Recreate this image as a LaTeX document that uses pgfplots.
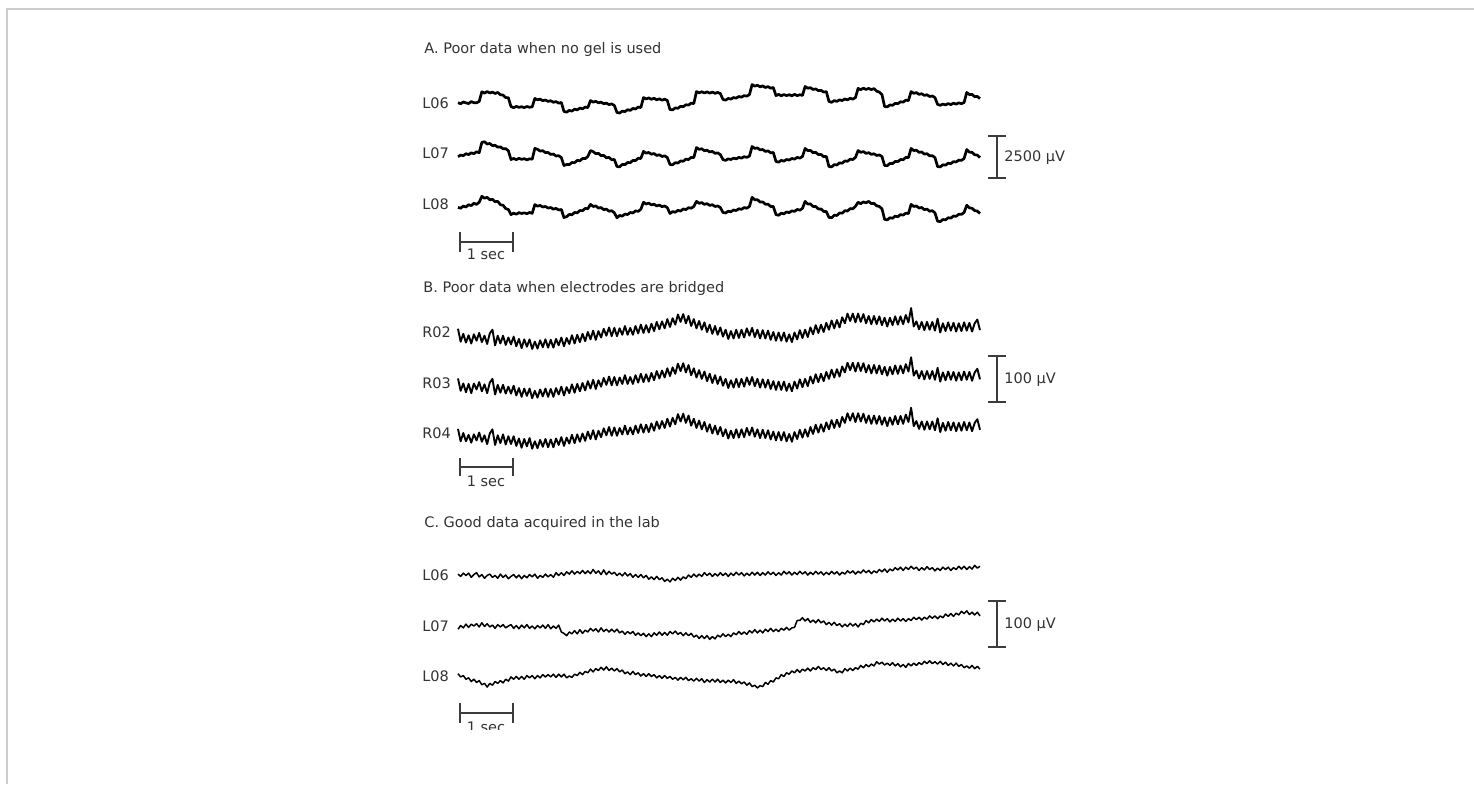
\documentclass[border=0pt]{standalone}
\usepackage{pgfplots}
\pgfplotsset{compat=1.18}
\usepackage{pgfplotstable}
\usepackage{fontspec}
\setmainfont{DejaVu Sans}
\definecolor{txt}{RGB}{51,51,51}
\definecolor{sbar}{RGB}{60,60,60}
\definecolor{frame}{RGB}{204,204,204}

% Panel A: no gel (uV), channels L06 L07 L08
\pgfplotstableread{
t a b c
0 20 -210 -190
0.05 -40 -120 -240
0.1 60 -150 -120
0.15 10 -40 -170
0.2 -30 -90 -40
0.25 80 10 -90
0.3 20 -40 40
0.35 10 70 -20
0.4 90 20 100
0.45 640 600 440
0.5 560 640 330
0.55 650 510 380
0.6 570 540 240
0.65 620 420 270
0.7 540 440 130
0.75 600 330 150
0.8 470 350 -40
0.85 450 240 -70
0.9 310 250 -260
0.95 300 130 -310
1 -200 -370 -600
1.05 -270 -310 -520
1.1 -190 -380 -580
1.15 -250 -300 -490
1.2 -210 -360 -540
1.25 -260 -320 -500
1.3 -200 -390 -550
1.35 -240 -330 -480
1.4 -220 -350 -530
1.45 260 260 -30
1.5 180 210 -120
1.55 220 110 -80
1.6 130 130 -170
1.65 170 20 -140
1.7 90 30 -230
1.75 130 -80 -200
1.8 40 -60 -290
1.85 80 -170 -250
1.9 -10 -150 -340
1.95 30 -260 -310
2 -480 -710 -770
2.05 -520 -650 -720
2.1 -420 -660 -590
2.15 -460 -540 -610
2.2 -350 -550 -480
2.25 -390 -420 -500
2.3 -290 -440 -370
2.35 -330 -310 -380
2.4 -230 -320 -250
2.45 -260 -200 -270
2.5 140 140 -20
2.55 50 80 -140
2.6 100 -40 -110
2.65 10 -20 -230
2.7 50 -150 -200
2.75 -40 -140 -320
2.8 -10 -270 -290
2.85 -90 -250 -410
2.9 -50 -380 -380
2.95 -140 -370 -500
3 -540 -770 -780
3.05 -570 -780 -650
3.1 -460 -650 -690
3.15 -490 -660 -570
3.2 -380 -540 -600
3.25 -420 -550 -480
3.3 -310 -420 -510
3.35 -340 -430 -390
3.4 -230 -300 -420
3.45 -260 -310 -300
3.5 310 90 100
3.55 230 -10 0
3.6 290 30 50
3.65 210 -70 -50
3.7 270 -30 -10
3.75 180 -140 -110
3.8 240 -100 -60
3.85 160 -200 -150
3.9 220 -160 -110
3.95 140 -260 -210
4 -370 -650 -540
4.05 -390 -670 -430
4.1 -280 -550 -470
4.15 -300 -570 -360
4.2 -190 -450 -400
4.25 -210 -470 -280
4.3 -100 -350 -320
4.35 -120 -370 -210
4.4 -10 -250 -240
4.45 -30 -260 -140
4.5 650 310 150
4.55 580 210 40
4.6 640 240 80
4.65 570 130 -20
4.7 630 160 20
4.75 560 60 -80
4.8 620 90 -40
4.85 550 -20 -140
4.9 600 10 -110
4.95 540 -90 -200
5 200 -370 -480
5.05 160 -420 -510
5.1 260 -330 -410
5.15 220 -370 -440
5.2 310 -290 -340
5.25 280 -330 -370
5.3 370 -250 -270
5.35 330 -290 -300
5.4 420 -210 -200
5.45 390 -250 -240
5.5 480 -170 -140
5.55 1050 370 380
5.6 960 260 240
5.65 1010 290 250
5.7 920 180 110
5.75 970 200 120
5.8 880 90 -10
5.85 930 120 -10
5.9 840 10 -140
5.95 880 30 -140
6 420 -480 -600
6.05 490 -520 -640
6.1 410 -420 -520
6.15 480 -460 -560
6.2 420 -370 -450
6.25 470 -400 -490
6.3 410 -310 -390
6.35 490 -350 -420
6.4 420 -250 -310
6.45 470 -290 -350
6.5 430 -200 -250
6.55 940 260 150
6.6 840 140 0
6.65 870 150 10
6.7 770 20 -140
6.75 800 40 -140
6.8 700 -90 -280
6.85 720 -80 -280
6.9 620 -210 -420
6.95 650 -190 -430
7 90 -770 -760
7.05 40 -790 -780
7.1 140 -660 -640
7.15 90 -680 -650
7.2 180 -560 -510
7.25 140 -580 -520
7.3 230 -450 -380
7.35 180 -470 -400
7.4 270 -350 -260
7.45 220 -370 -270
7.5 310 -250 -130
7.55 830 140 100
7.6 760 40 20
7.65 840 80 120
7.7 770 -20 70
7.75 830 20 150
7.8 760 -80 20
7.85 820 -40 40
7.9 670 -140 -100
7.95 620 -110 -140
8 480 -200 -270
8.05 -200 -710 -870
8.1 -220 -720 -900
8.15 -110 -590 -780
8.2 -130 -600 -810
8.25 -20 -480 -690
8.3 -40 -490 -720
8.35 70 -370 -600
8.4 50 -380 -630
8.45 160 -250 -520
8.5 140 -260 -540
8.55 650 260 -20
8.6 550 140 -140
8.65 590 160 -110
8.7 490 40 -230
8.75 530 60 -200
8.8 430 -60 -320
8.85 470 -40 -290
8.9 370 -160 -410
8.95 400 -150 -380
9 310 -260 -500
9.05 -80 -770 -980
9.1 -130 -790 -1000
9.15 -60 -670 -880
9.2 -110 -690 -900
9.25 -30 -580 -780
9.3 -90 -600 -800
9.35 -10 -490 -680
9.4 -60 -510 -700
9.45 10 -400 -580
9.5 -40 -420 -590
9.55 30 -310 -480
9.6 600 200 -70
9.65 480 50 -220
9.7 490 40 -240
9.75 360 -100 -380
9.8 370 -120 -400
9.85 250 -260 -540
}\dataA

% Panel B: bridged electrodes (uV), channels R02 R03 R04
\pgfplotstableread{
t a b c
0 7 10 9
0.05 -21 -17 -18
0.1 -4 -1 0
0.15 -23 -20 -18
0.2 -7 -2 -4
0.25 -25 -22 -21
0.3 -5 -1 -3
0.35 -19 -14 -16
0.4 -2 2 1
0.45 -22 -18 -19
0.5 -8 -3 -5
0.55 -26 -22 -24
0.6 -3 1 -1
0.65 5 9 8
0.7 -29 -25 -26
0.75 -8 -4 -5
0.8 -25 -21 -22
0.85 -8 -4 -3
0.9 -28 -23 -25
0.95 -12 -8 -7
1 -27 -23 -24
1.05 -10 -6 -7
1.1 -31 -27 -28
1.15 -15 -11 -12
1.2 -35 -30 -32
1.25 -16 -12 -13
1.3 -32 -28 -29
1.35 -16 -12 -11
1.4 -37 -33 -34
1.45 -21 -17 -18
1.5 -36 -32 -33
1.55 -18 -14 -15
1.6 -33 -29 -30
1.65 -16 -12 -13
1.7 -34 -30 -31
1.75 -17 -13 -14
1.8 -34 -30 -31
1.85 -15 -11 -12
1.9 -29 -25 -26
1.95 -12 -8 -9
2 -31 -27 -28
2.05 -13 -9 -10
2.1 -26 -22 -23
2.15 -7 -3 -4
2.2 -25 -21 -22
2.25 -6 -2 -3
2.3 -22 -18 -19
2.35 -4 0 -1
2.4 -20 -16 -17
2.45 0 4 3
2.5 -16 -12 -13
2.55 3 7 6
2.6 -17 -13 -14
2.65 2 6 5
2.7 -12 -8 -9
2.75 7 11 10
2.8 -8 -4 -5
2.85 10 14 13
2.9 -9 -5 -6
2.95 9 13 12
3 -9 -5 -6
3.05 8 12 11
3.1 -6 -2 -3
3.15 13 17 16
3.2 -6 -2 -3
3.25 9 13 12
3.3 -6 -2 -3
3.35 13 17 16
3.4 -3 1 0
3.45 16 20 19
3.5 -2 2 1
3.55 15 19 18
3.6 -1 3 2
3.65 18 22 21
3.7 2 6 5
3.75 22 26 25
3.8 6 10 9
3.85 23 27 26
3.9 8 12 11
3.95 28 32 31
4 11 15 14
4.05 30 34 33
4.1 16 20 19
4.15 38 42 41
4.2 22 26 25
4.25 39 43 42
4.3 19 23 22
4.35 35 39 38
4.4 13 17 16
4.45 28 32 31
4.5 8 12 11
4.55 24 28 27
4.6 5 9 8
4.65 21 25 24
4.7 0 4 3
4.75 16 20 19
4.8 -4 0 -1
4.85 13 17 16
4.9 -6 -2 -3
4.95 10 14 13
5 -10 -6 -7
5.05 5 9 8
5.1 -15 -11 -12
5.15 2 6 5
5.2 -14 -10 -11
5.25 5 9 8
5.3 -13 -9 -10
5.35 5 9 8
5.4 -12 -8 -9
5.45 8 12 11
5.5 -8 -4 -5
5.55 9 13 12
5.6 -11 -7 -8
5.65 5 9 8
5.7 -14 -10 -11
5.75 4 8 7
5.8 -14 -10 -11
5.85 3 7 6
5.9 -17 -13 -14
5.95 0 4 3
6 -19 -15 -16
6.05 -1 3 2
6.1 -19 -15 -16
6.15 -1 3 2
6.2 -21 -17 -18
6.25 -5 -1 -2
6.3 -22 -18 -19
6.35 -1 3 2
6.4 -16 -12 -13
6.45 4 8 7
6.5 -13 -9 -10
6.55 5 9 8
6.6 -11 -7 -8
6.65 10 14 13
6.7 -5 -1 -2
6.75 15 19 18
6.8 -2 2 1
6.85 16 20 19
6.9 0 4 3
6.95 20 24 23
7 5 9 8
7.05 25 29 28
7.1 8 12 11
7.15 26 30 29
7.2 10 14 13
7.25 32 36 35
7.3 19 23 22
7.35 40 44 43
7.4 24 28 27
7.45 40 44 43
7.5 21 25 24
7.55 40 44 43
7.6 22 26 25
7.65 39 43 42
7.7 19 23 22
7.75 35 39 38
7.8 17 21 20
7.85 35 39 38
7.9 17 21 20
7.95 34 38 37
8 15 19 18
8.05 31 35 34
8.1 12 16 15
8.15 31 35 34
8.2 15 19 18
8.25 34 38 37
8.3 16 20 19
8.35 34 38 37
8.4 17 21 20
8.45 37 41 40
8.5 21 25 24
8.55 52 56 55
8.6 12 16 15
8.65 23 27 26
8.7 6 10 9
8.75 22 26 25
8.8 4 8 7
8.85 22 26 25
8.9 5 9 8
8.95 22 26 25
9 3 7 6
9.05 29 33 32
9.1 -1 3 2
9.15 19 23 22
9.2 2 6 5
9.25 21 25 24
9.3 3 7 6
9.35 20 24 23
9.4 1 5 4
9.45 19 23 22
9.5 2 6 5
9.55 21 25 24
9.6 3 7 6
9.65 20 24 23
9.7 1 5 4
9.75 19 23 22
9.8 27 31 30
9.85 4 8 7
}\dataB

% Panel C: good data (uV), channels L06 L07 L08
\pgfplotstableread{
t a b c
0 2 -7 5
0.05 -3 1 -2
0.1 4 -4 1
0.15 -1 4 -7
0.2 4 -3 -4
0.25 -5 4 -12
0.3 1 0 -7
0.35 5 5 -14
0.4 -4 -2 -10
0.45 1 7 -19
0.5 -7 -1 -16
0.55 -1 5 -24
0.6 2 -2 -16
0.65 -5 2 -20
0.7 -1 -5 -12
0.75 -7 3 -16
0.8 2 -2 -10
0.85 -5 3 -15
0.9 0 -4 -7
0.95 -8 0 -11
1 -3 3 -2
1.05 1 -5 -7
1.1 -6 1 -1
1.15 0 -6 -7
1.2 -8 2 -1
1.25 -1 -4 -7
1.3 -6 3 1
1.35 1 -5 -4
1.4 -4 0 1
1.45 2 -6 -6
1.5 -7 1 1
1.55 -1 -4 -4
1.6 -5 2 3
1.65 2 -5 -2
1.7 -4 3 3
1.75 1 -6 -2
1.8 -5 0 4
1.85 5 -5 -3
1.9 -1 2 4
1.95 5 -13 -2
2 -1 -16 4
2.05 7 -21 -4
2.1 2 -13 0
2.15 9 -17 -3
2.2 2 -10 4
2.25 8 -17 1
2.3 3 -8 8
2.35 10 -16 3
2.4 3 -9 10
2.45 9 -13 7
2.5 3 -5 15
2.55 12 -11 9
2.6 4 -6 16
2.65 9 -13 12
2.7 1 -4 19
2.75 11 -12 13
2.8 1 -7 20
2.85 8 -13 12
2.9 2 -7 17
2.95 6 -13 11
3 -1 -7 16
3.05 4 -15 9
3.1 -2 -11 13
3.15 5 -18 5
3.2 -2 -12 9
3.25 3 -17 3
3.3 -5 -12 10
3.35 1 -20 3
3.4 -5 -15 7
3.45 1 -21 0
3.5 -6 -16 5
3.55 -1 -23 -1
3.6 -9 -17 5
3.65 -4 -23 -1
3.7 -10 -15 3
3.75 -3 -20 -4
3.8 -10 -13 1
3.85 -6 -20 -5
3.9 -14 -14 1
3.95 -9 -20 -5
4 -15 -12 -1
4.05 -7 -17 -7
4.1 -12 -11 -3
4.15 -5 -18 -9
4.2 -11 -14 -3
4.25 -4 -21 -8
4.3 -8 -15 -3
4.35 0 -21 -10
4.4 -5 -16 -6
4.45 2 -24 -11
4.5 -4 -20 -5
4.55 2 -27 -11
4.6 -3 -21 -6
4.65 5 -27 -14
4.7 -1 -21 -8
4.75 4 -29 -13
4.8 -3 -23 -7
4.85 3 -28 -13
4.9 -2 -20 -7
4.95 5 -24 -14
5 -1 -17 -9
5.05 4 -23 -15
5.1 -3 -18 -9
5.15 4 -23 -14
5.2 -1 -15 -8
5.25 6 -19 -16
5.3 0 -12 -11
5.35 5 -18 -17
5.4 -2 -13 -13
5.45 4 -18 -20
5.5 -1 -10 -15
5.55 6 -15 -23
5.6 0 -8 -20
5.65 6 -15 -26
5.7 -1 -9 -21
5.75 5 -15 -23
5.8 0 -7 -14
5.85 7 -12 -18
5.9 1 -5 -10
5.95 6 -12 -13
6 -1 -7 -4
6.05 5 -12 -6
6.1 0 -5 3
6.15 8 -9 -1
6.2 2 -3 7
6.25 7 -9 4
6.3 0 -4 11
6.35 6 -3 7
6.4 1 12 14
6.45 8 12 8
6.5 2 18 15
6.55 7 11 11
6.6 0 16 17
6.65 6 8 11
6.7 1 13 18
6.75 8 7 14
6.8 2 14 21
6.85 7 7 14
6.9 0 11 18
6.95 6 3 12
7 1 8 18
7.05 8 2 11
7.1 2 8 15
7.15 7 1 7
7.2 0 5 11
7.25 6 -2 7
7.3 2 4 16
7.35 9 -1 11
7.4 4 6 17
7.45 9 0 12
7.5 2 5 18
7.55 8 -2 15
7.6 4 6 23
7.65 11 3 18
7.7 5 12 25
7.75 10 7 20
7.8 3 14 26
7.85 9 9 22
7.9 5 15 31
7.95 12 10 26
8 7 17 30
8.05 13 11 24
8.1 6 16 28
8.15 13 9 23
8.2 9 15 29
8.25 16 10 22
8.3 11 17 27
8.35 17 11 20
8.4 10 16 25
8.45 17 10 19
8.5 12 16 27
8.55 19 12 22
8.6 13 19 28
8.65 17 14 23
8.7 10 19 29
8.75 16 13 25
8.8 11 19 32
8.85 18 15 27
8.9 12 22 33
8.95 16 17 27
9 9 22 31
9.05 15 16 26
9.1 10 22 32
9.15 17 18 25
9.2 12 26 30
9.25 17 21 23
9.3 10 27 28
9.35 16 21 22
9.4 12 28 28
9.45 19 24 21
9.5 13 32 25
9.55 19 27 18
9.6 12 33 22
9.65 18 25 17
9.7 13 30 23
9.75 21 24 16
9.8 15 30 21
9.85 19 22 15
}\dataC

\pgfplotsset{
  trace/.style={scale only axis, hide axis, width=261pt, height=20pt,
    xmin=0, xmax=9.85, clip=false, anchor=west},
  tA/.style={trace, ymin=-1136, ymax=1136},
  tB/.style={trace, ymin=-43.48, ymax=43.48},
}

\begin{document}
\begin{tikzpicture}[font=\fontsize{7.25}{8.7}\selectfont]
\begin{scope}[x=0.5pt, y=-0.5pt]
\useasboundingbox (0,0) rectangle (1474,784);
\fill[white] (0,0) rectangle (1474,784);
\draw[frame, line width=1pt] (7,784) -- (7,9) -- (1474,9);

\tikzset{lab/.style={anchor=west, inner sep=0pt, text=txt},
         sb/.style={sbar, line width=1pt}}

% Panel A annotations
\node[lab] at (424,49) {A. Poor data when no gel is used};
\node[lab] at (422,103) {L06};
\node[lab] at (422,153) {L07};
\node[lab] at (422,204) {L08};
\draw[sb] (997,136) -- (997,178) (988,136) -- (1006,136) (988,178) -- (1006,178);
\node[lab] at (1004,158) {2500 µV};
\draw[sb] (460,242) -- (513,242) (460,232) -- (460,252) (513,232) -- (513,252);
\node[inner sep=0pt, text=txt] at (486,254) {1 sec};

% Panel B annotations
\node[lab] at (423,288) {B. Poor data when electrodes are bridged};
\node[lab] at (422,332) {R02};
\node[lab] at (422,383) {R03};
\node[lab] at (422,433) {R04};
\draw[sb] (997,356) -- (997,402) (988,356) -- (1006,356) (988,402) -- (1006,402);
\node[lab] at (1004,380) {100 µV};
\draw[sb] (460,467) -- (513,467) (460,458) -- (460,476) (513,458) -- (513,476);
\node[inner sep=0pt, text=txt] at (486,481) {1 sec};

% Panel C annotations
\node[lab] at (424,523) {C. Good data acquired in the lab};
\node[lab] at (422,575) {L06};
\node[lab] at (422,626) {L07};
\node[lab] at (422,676) {L08};
\draw[sb] (997,601) -- (997,647) (988,601) -- (1006,601) (988,647) -- (1006,647);
\node[lab] at (1004,625) {100 µV};
\draw[sb] (460,713) -- (513,713) (460,703) -- (460,723) (513,703) -- (513,723);
\begin{scope}
\clip (0,0) rectangle (1474,729);
\node[inner sep=0pt, text=txt] at (486,727) {1 sec};
\end{scope}
\end{scope}

% ---------- Panel A traces ----------
\begin{axis}[tA, at={(229pt,-51.5pt)}]
\addplot[black, line width=1.35pt, line join=round] table[x=t, y=a] {\dataA};
\end{axis}
\begin{axis}[tA, at={(229pt,-76.5pt)}]
\addplot[black, line width=1.35pt, line join=round] table[x=t, y=b] {\dataA};
\end{axis}
\begin{axis}[tA, at={(229pt,-102pt)}]
\addplot[black, line width=1.35pt, line join=round] table[x=t, y=c] {\dataA};
\end{axis}

% ---------- Panel B traces ----------
\begin{axis}[tB, at={(229pt,-166pt)}]
\addplot[black, line width=0.95pt, line join=round] table[x=t, y=a] {\dataB};
\end{axis}
\begin{axis}[tB, at={(229pt,-191.5pt)}]
\addplot[black, line width=0.95pt, line join=round] table[x=t, y=b] {\dataB};
\end{axis}
\begin{axis}[tB, at={(229pt,-216.5pt)}]
\addplot[black, line width=0.95pt, line join=round] table[x=t, y=c] {\dataB};
\end{axis}

% ---------- Panel C traces ----------
\begin{axis}[tB, at={(229pt,-287.5pt)}]
\addplot[black, line width=0.75pt, line join=round] table[x=t, y=a] {\dataC};
\end{axis}
\begin{axis}[tB, at={(229pt,-313pt)}]
\addplot[black, line width=0.75pt, line join=round] table[x=t, y=b] {\dataC};
\end{axis}
\begin{axis}[tB, at={(229pt,-338pt)}]
\addplot[black, line width=0.75pt, line join=round] table[x=t, y=c] {\dataC};
\end{axis}
\end{tikzpicture}
\end{document}
